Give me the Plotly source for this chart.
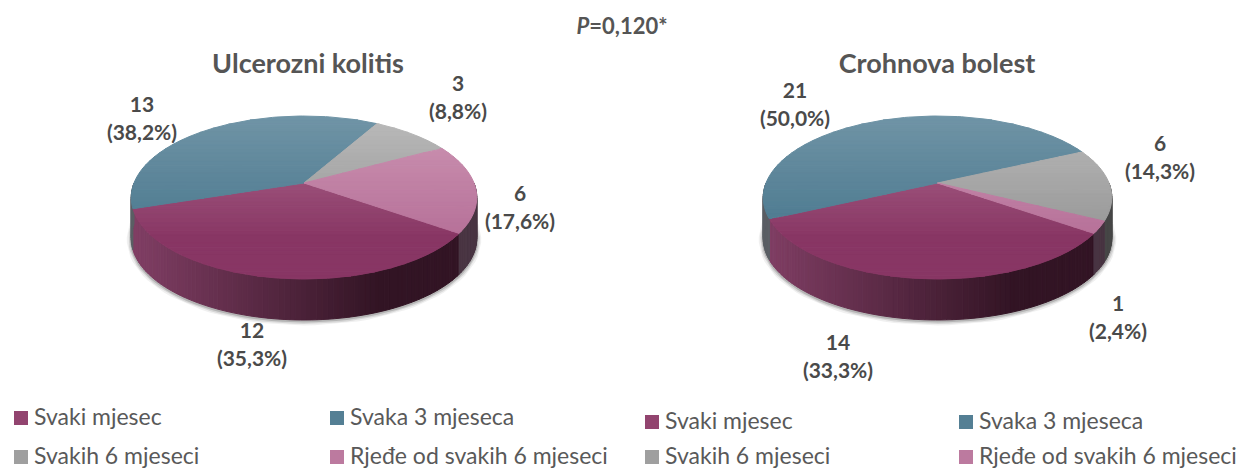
import math
import plotly.graph_objects as go

categories = ["Svaki mjesec", "Svaka 3 mjeseca", "Svakih 6 mjeseci", "Rjeđe od svakih 6 mjeseci"]
uc_counts = [12, 13, 3, 6]
cd_counts = [14, 21, 6, 1]
uc_pct = ["(35,3%)", "(38,2%)", "(8,8%)", "(17,6%)"]
cd_pct = ["(33,3%)", "(50,0%)", "(14,3%)", "(2,4%)"]
uc_title = "Ulcerozni kolitis"
cd_title = "Crohnova bolest"
p_text = "<i>P</i>=0,120*"

# styles / layout
TXT = "#4a4a4a"
FONT = "Lato, Carlito, 'Open Sans', sans-serif"
TOP_A = [(176, 110, 145), (112, 148, 166), (186, 186, 186), (205, 150, 180)]   # upper part of the disc
TOP_B = [(136, 54, 100), (74, 120, 142), (150, 150, 150), (182, 112, 152)]     # lower part of the disc
WALL_L = [(128, 62, 100), (90, 95, 100), (110, 110, 110), (100, 75, 92)]
WALL_R = [(50, 20, 36), (70, 70, 75), (70, 70, 70), (72, 52, 66)]
KK, BB, DEPTH, START = 0.178, 78.9, 41, 35.0
Y_APEX, Y_TOP, Y_BOT = 183, 116, 280


def proj(cx, a, deg, dy=0):
    t = math.radians(deg)
    u, v = math.cos(t), math.sin(t)
    w = 1 - KK * v
    return cx + a * u / w, Y_APEX + BB * v / w + dy


def clip(poly, ymin, ymax):
    def half(pts, keep, cross):
        out = []
        for i, p in enumerate(pts):
            q = pts[(i + 1) % len(pts)]
            kp, kq = keep(p), keep(q)
            if kp:
                out.append(p)
            if kp != kq:
                s = (cross - p[1]) / (q[1] - p[1])
                out.append((p[0] + s * (q[0] - p[0]), cross))
        return out
    pts = half(poly, lambda p: p[1] >= ymin, ymin)
    if pts:
        pts = half(pts, lambda p: p[1] <= ymax, ymax)
    return pts


def mix(c1, c2, s):
    s = max(0, min(1, s))
    return "rgb(%d,%d,%d)" % tuple(round(c1[i] + (c2[i] - c1[i]) * s) for i in range(3))


fig = go.Figure()


def add_poly(xs, ys, color, lw=1.0):
    fig.add_trace(go.Scatter(x=xs + xs[:1], y=ys + ys[:1], mode="lines", fill="toself",
                             fillcolor=color, line=dict(color=color, width=lw),
                             hoverinfo="skip", showlegend=False))


def draw_pie(cx, a, counts):
    total = sum(counts)
    spans, ang = [], START
    for n in counts:
        spans.append((ang, ang + 360 * n / total))
        ang += 360 * n / total
    # soft shadow under the disc
    ex = [proj(cx, a, d, DEPTH + 1) for d in range(0, 361, 3)]
    for w, al in [(9, .06), (6, .10), (3, .16)]:
        fig.add_trace(go.Scatter(x=[p[0] for p in ex], y=[p[1] for p in ex], mode="lines",
                                 line=dict(color="rgba(0,0,0,%g)" % al, width=w),
                                 hoverinfo="skip", showlegend=False))
    # side wall
    for k, (a0, a1) in enumerate(spans):
        for lo0, hi0 in [(a0, a1), (a0 - 360, a1 - 360), (a0 + 360, a1 + 360)]:
            lo, hi = max(lo0, 0), min(hi0, 180)
            if hi <= lo:
                continue
            n = max(1, int((hi - lo) / 1.5))
            for i in range(n):
                d0, d1 = lo + (hi - lo) * i / n, lo + (hi - lo) * (i + 1) / n
                p0, p1 = proj(cx, a, d0), proj(cx, a, d1)
                q1, q0 = proj(cx, a, d1, DEPTH), proj(cx, a, d0, DEPTH)
                s = 1 - (((p0[0] + p1[0]) / 2 - (cx - a)) / (2 * a))
                s = min(1, (1 - s) / 0.72)
                add_poly([p0[0], p1[0], q1[0], q0[0]], [p0[1], p1[1], q1[1], q0[1]],
                         mix(WALL_L[k], WALL_R[k], s), 1.0)
    # top surface in horizontal colour bands
    bands = 40
    for k, (a0, a1) in enumerate(spans):
        n = max(2, int((a1 - a0) / 1.5))
        poly = [(cx, Y_APEX)] + [proj(cx, a, a0 + (a1 - a0) * i / n) for i in range(n + 1)]
        for b in range(bands):
            y0 = Y_TOP + (Y_BOT - Y_TOP) * b / bands
            y1 = Y_TOP + (Y_BOT - Y_TOP) * (b + 1) / bands
            pts = clip(poly, y0, y1)
            if len(pts) >= 3:
                add_poly([p[0] for p in pts], [p[1] for p in pts],
                         mix(TOP_A[k], TOP_B[k], (b + .5) / bands * 1.35), 1.0)


draw_pie(304, 170, uc_counts)
draw_pie(937.5, 171.5, cd_counts)


def add_text(xs, ys, texts, size, bold=True, pos="middle center", color=TXT):
    fig.add_trace(go.Scatter(x=xs, y=ys, mode="text", text=texts, textposition=pos,
                             textfont=dict(family=FONT, size=size, color=color,
                                           weight="bold" if bold else "normal"),
                             hoverinfo="skip", showlegend=False))


# slice labels: count above percentage
uc_x = [252, 142, 458, 520]
uc_y = [333, 107, 86, 196]
cd_x = [838, 795, 1160, 1118]
cd_y = [345, 93, 146, 306]
add_text(uc_x, uc_y, [str(v) for v in uc_counts], 21)
add_text(uc_x, [y + 28 for y in uc_y], uc_pct, 21)
add_text(cd_x, cd_y, [str(v) for v in cd_counts], 21)
add_text(cd_x, [y + 28 for y in cd_y], cd_pct, 21)
add_text([308, 937], [66, 66], [uc_title, cd_title], 27, color="#555555")
add_text([622], [28], [p_text], 22, color="#555555")

# hand-placed legends
for col_x, leg_rows in [([21, 337], [418, 457]), ([652, 966], [422, 457])]:
    order = [(0, 0), (1, 0), (0, 1), (1, 1)]
    for k, (c, r) in enumerate(order):
        fig.add_trace(go.Scatter(x=[col_x[c]], y=[leg_rows[r]], mode="markers",
                                 marker=dict(symbol="square", size=14, color=mix(TOP_A[k], TOP_B[k], .75)),
                                 hoverinfo="skip", showlegend=False))
        add_text([col_x[c] + 13], [leg_rows[r] + 1], [categories[k]], 23, bold=False,
                 pos="middle right", color="#595959")

fig.update_layout(width=1241, height=469, margin=dict(l=0, r=0, t=0, b=0),
                  paper_bgcolor="white", plot_bgcolor="white", showlegend=False,
                  xaxis=dict(range=[0, 1241], visible=False, fixedrange=True),
                  yaxis=dict(range=[469, 0], visible=False, fixedrange=True))
fig.write_html("out.html", config={"displayModeBar": False},
               post_script="document.body.style.margin='0';")
